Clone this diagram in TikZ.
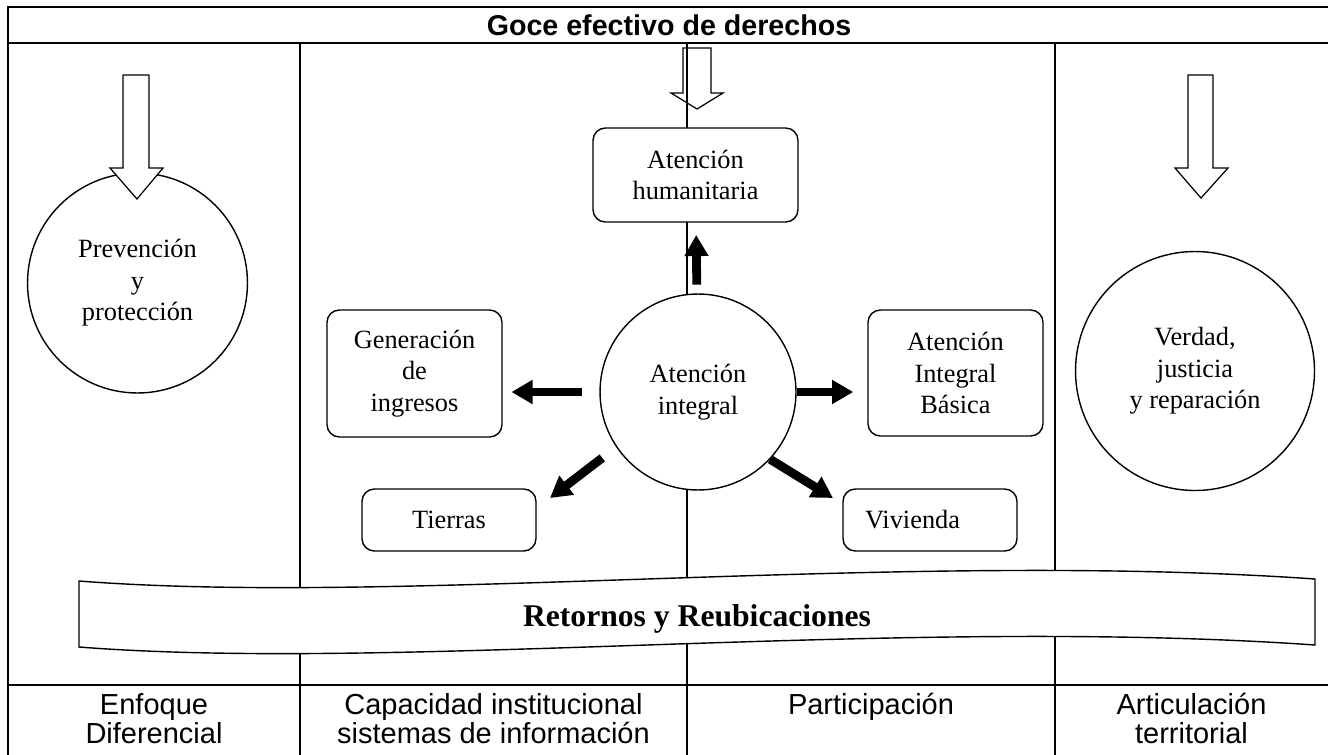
\documentclass[tikz,border=0pt]{standalone}
\usepackage{fontspec}
\setmainfont{Liberation Serif}
\newfontfamily\arial{Liberation Sans}
\usetikzlibrary{arrows.meta}

\begin{document}
\begin{tikzpicture}[x=0.02cm, y=-0.02cm,
		frame/.style={line width=1.1pt},
		box/.style={draw, thick, fill=white, rounded corners=7pt, align=center, inner sep=0pt, font=\fontsize{15}{18}\selectfont},
		ring/.style={circle, draw, thick, fill=white, align=center, inner sep=0pt, font=\fontsize{15}{18}\selectfont},
		hollow/.style={draw, fill=white, line width=0.7pt},
		bigarrow/.style={-{Triangle[length=12pt, width=13pt]}, line width=5pt},
		foot/.style={anchor=north, align=center, font=\arial\fontsize{16.5}{16.5}\selectfont}]
		\useasboundingbox (0,0) rectangle (1328,754);
		% frame and columns
		\draw[frame] (8,7) rectangle (1330,756);
		\draw[frame] (8,43) -- (1330,43);
		\draw[frame] (8,685) -- (1330,685);
		\foreach \x in {300,687,1055} \draw[frame] (\x,43) -- (\x,756);
		\node[font=\arial\bfseries\fontsize{16.3}{16}\selectfont] (titulo) at (669,25) {Goce efectivo de derechos};
		% banner
		\draw[thick, fill=white] (79,581) .. controls (400,606) and (900,550) .. (1315,579) -- (1315,645) .. controls (900,616) and (400,672) .. (79,647) -- cycle;
		\node[font=\bfseries\fontsize{18}{20}\selectfont, anchor=base] (retornos) at (697,626) {Retornos y Reubicaciones};
		% circles and boxes
		\node[ring, minimum size=4.4cm] (prevencion) at (137.5,283) {Prevención\\y\\protección};
		\node[ring, minimum size=4.78cm] (verdad) at (1195,371) {Verdad,\\justicia\\y reparación};
		\node[ring, minimum size=3.92cm] (integral) at (698,392) {Atención\\integral};
		\node[box, minimum width=4.1cm, minimum height=1.88cm] (humanitaria) at (695.5,175) {Atención\\humanitaria};
		\node[box, minimum width=3.5cm, minimum height=2.54cm] (gener) at (414.5,373.5) {Generación\\de\\ingresos};
		\node[box, minimum width=3.48cm, minimum height=1.24cm] (tierras) at (449,520) {Tierras};
		\node[box, minimum width=3.5cm, minimum height=2.52cm] (basica) at (955.5,373) {Atención\\Integral\\Básica};
		\node[box, minimum width=3.48cm, minimum height=1.24cm, text width=2.6cm, align=left] (vivienda) at (930,520) {Vivienda};
		% hollow arrows
		\draw[hollow] (123,75) -- (149,75) -- (149,168) -- (163,168) -- (137,199) -- (110,168) -- (123,168) -- cycle;
		\draw[hollow, fill=none] (683,48) -- (711,48) -- (711,93) -- (723,93) -- (697,109) -- (671,93) -- (683,93) -- cycle;
		\draw[hollow] (1188,75) -- (1213,75) -- (1213,168) -- (1228,168) -- (1201,198) -- (1175,168) -- (1188,168) -- cycle;
		% black arrows
		\coordinate (tipsw) at (550,498);
		\coordinate (tipse) at (833,498);
		\draw[bigarrow, shorten <=5pt, shorten >=7pt] (integral) -- (humanitaria);
		\draw[bigarrow, shorten <=10pt, shorten >=5pt] (integral.west) -- (integral.west -| gener.east);
		\draw[bigarrow, shorten >=8pt] (integral.east) -- (integral.east -| basica.west);
		\draw[bigarrow, shorten <=10pt] (integral.214) -- (tipsw);
		\draw[bigarrow] (integral.317) -- (tipse);
		% bottom row
		\node[foot] (enfoque) at (154,687) {Enfoque\\Diferencial};
		\node[foot] (capacidad) at (493.5,687) {Capacidad institucional\\sistemas de información};
		\node[foot] (participacion) at (871,687) {Participación};
		\node[foot] (articulacion) at (1191.5,687) {Articulación\\territorial};
	\end{tikzpicture}
\end{document}
